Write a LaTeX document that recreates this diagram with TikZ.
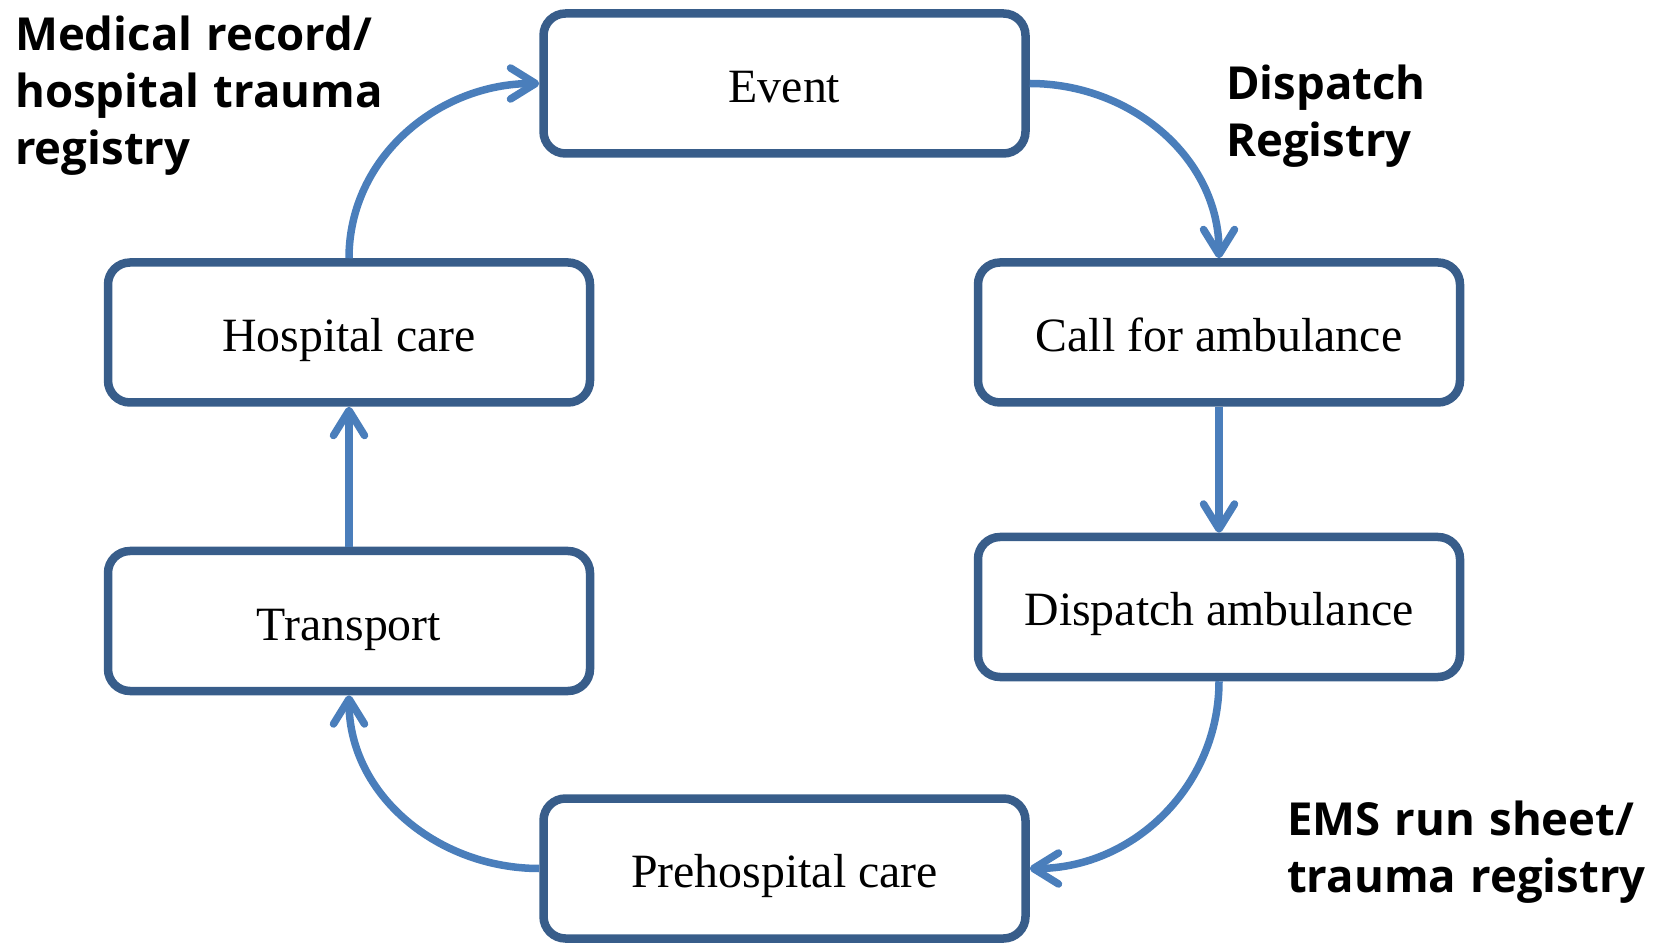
\documentclass[tikz,border=0pt]{standalone}
\usepackage{fontspec}
\setmainfont{Liberation Serif}
\newfontfamily\labelfont[WordSpace=1.2]{Open Sans}
\usetikzlibrary{positioning, arrows.meta}

\definecolor{boxline}{HTML}{385D8A}
\definecolor{arrowblue}{HTML}{4A7EBB}

\tikzset{
  stage/.style={draw=boxline, line width=8.5pt, rounded corners=22pt, minimum width=482pt, minimum height=140pt, inner sep=0pt, text height=38pt, text depth=0pt, font=\fontsize{47.8}{57}\selectfont},
  flow/.style={draw=arrowblue, line width=7.5pt, -{Straight Barb[length=25pt, width=31pt, round]}},
  record/.style={align=left, inner sep=0pt, anchor=base west, font=\labelfont\bfseries\fontsize{45.5}{57}\selectfont}
}

\begin{document}
\begin{tikzpicture}[x=1pt, y=1pt]

\useasboundingbox (0,0) rectangle (1656,943);

\node[stage] (event) at (784.5, 859.5) {Event};
\node[stage] (call) at (1219, 610.5) {Call for ambulance};
\node[stage] (dispatch) at (1219, 336) {Dispatch ambulance};
\node[stage] (prehosp) at (784.5, 74.5) {Prehospital care};
\node[stage] (transport) at (349, 322) {Transport};
\node[stage] (hospital) at (349, 610.5) {Hospital care};

\draw[flow] (event.east) to[out=0, in=90] (call.north);
\draw[flow] (call.south) -- (dispatch.north);
\draw[flow] (dispatch.south) to[out=-90, in=0] (prehosp.east);
\draw[flow] (prehosp.west) to[out=180, in=-90] (transport.south);
\draw[flow] (transport.north) -- (hospital.south);
\draw[flow] (hospital.north) to[out=90, in=180] (event.west);

\node[record] (medrec) at (15, 778) {Medical record/\\hospital trauma\\registry};
\node[record] (dispreg) at (1226, 786) {Dispatch\\Registry};
\node[record] (emsrun) at (1287, 51) {EMS run sheet/\\trauma registry};

\end{tikzpicture}
\end{document}
